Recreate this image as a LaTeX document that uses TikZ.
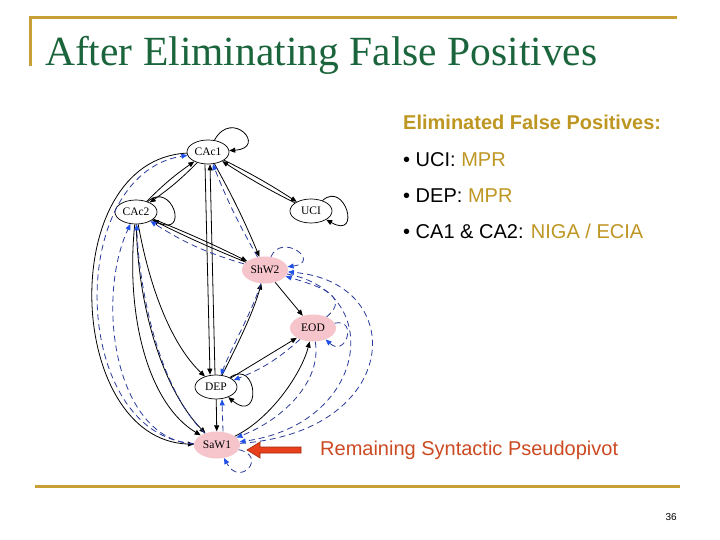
\documentclass[tikz,border=0pt]{standalone}
\usepackage{fontspec}
\setmainfont{Liberation Serif}
\setsansfont{Liberation Sans}
\usetikzlibrary{arrows.meta,shapes.geometric}
\definecolor{goldline}{HTML}{C9A035}
\definecolor{goldtext}{HTML}{BE9622}
\definecolor{titlegreen}{HTML}{1B653C}
\definecolor{remred}{HTML}{CC4A22}
\definecolor{arrowred}{HTML}{E8401C}
\definecolor{arrowdark}{HTML}{A02A10}
\definecolor{pinkfill}{HTML}{F6C4CB}
\definecolor{dashblue}{HTML}{2A3A9A}
\definecolor{arrowblue}{HTML}{2050E8}
\begin{document}
\begin{tikzpicture}[x=1pt,y=-1pt,
  gnode/.style={ellipse,draw,line width=0.7pt,minimum width=42pt,minimum height=24pt,inner sep=0pt,font=\fontsize{11.5}{11.5}\selectfont},
  pnode/.style={ellipse,fill=pinkfill,minimum width=46pt,minimum height=27pt,inner sep=0pt,font=\fontsize{11.5}{11.5}\selectfont},
  blk/.style={draw=black,line width=0.8pt,-{Triangle[length=6pt,width=5pt]}},
  dsh/.style={draw=dashblue,line width=0.8pt,dash pattern=on 6pt off 4pt,-{Triangle[length=6pt,width=5pt,color=arrowblue]}},
  gline/.style={draw=goldline,line width=3pt},
  sanstext/.style={anchor=base west,inner sep=0pt,font=\sffamily\fontsize{20}{20}\selectfont}
]
\useasboundingbox (0,0) rectangle (720,540);
\fill[white] (0,0) rectangle (720,540);

% frame lines
\draw[gline] (30,66) -- (30,18) -- (677,18);
\draw[gline] (35,486) -- (680,486);

% title
\node[anchor=base west,inner sep=0pt,text=titlegreen,font=\fontsize{41.5}{41.5}\selectfont] (title) at (45,66) {After Eliminating False Positives};

% graph nodes
\node[gnode] (c1) at (208,152) {CAc1};
\node[gnode] (c2) at (136,212) {CAc2};
\node[gnode] (uci) at (311,211) {UCI};
\node[pnode] (shw2) at (265,270) {ShW2};
\node[pnode] (eod) at (313,328) {EOD};
\node[gnode] (dep) at (216,387) {DEP};
\node[pnode] (saw1) at (217,445) {SaW1};

% black edges
\draw[blk] (c1) .. controls (232,108) and (268,148) .. (c1);
\draw[blk] (c1) to[bend left=5] (c2);
\draw[blk] (c2) to[bend left=5] (c1);
\draw[blk] (c1) to[bend left=3] (uci);
\draw[blk] (uci) to[bend left=3] (c1);
\draw[blk] (uci) .. controls (345,180) and (362,240) .. (uci);
\draw[blk] (c2) .. controls (172,180) and (190,238) .. (c2);
\draw[blk] (c1) to[bend left=3] (shw2);
\draw[blk] ([xshift=-3pt]c1.south) -- ([xshift=-6pt]dep.north);
\draw[blk] ([xshift=-1pt]dep.north) -- ([xshift=2pt]c1.south);
\draw[blk] (c1) .. controls (55,160) and (65,440) .. (saw1);
\draw[blk] (c2) to[bend left=2] (shw2);
\draw[blk] (shw2) to[bend left=2] (c2);
\draw[blk] (c2) .. controls (150,290) and (172,345) .. (dep);
\draw[blk] (c2) .. controls (125,320) and (150,405) .. (saw1);
\draw[blk] (c2) .. controls (138,312) and (165,392) .. (saw1);
\draw[blk] (dep) .. controls (258,358) and (262,425) .. (dep);
\draw[blk] (dep) -- (saw1);
\draw[blk] (dep) .. controls (240,340) and (254,310) .. (shw2);
\draw[blk] (dep) -- (eod);
\draw[blk] (saw1) .. controls (272,418) and (302,372) .. (eod);
\draw[blk] (shw2) -- (eod);

% dashed edges
\draw[dsh] (saw1) .. controls (70,436) and (64,175) .. (c1);
\draw[dsh] (saw1) .. controls (115,440) and (95,300) .. (c2);
\draw[dsh] (shw2) to[bend left=4] (c1);
\draw[dsh] (shw2) to[bend left=8] (c2);
\draw[dsh] (saw1) .. controls (162,392) and (140,300) .. (c2);
\draw[dsh] (shw2) .. controls (252,312) and (234,342) .. (dep);
\draw[dsh] ([xshift=6pt]saw1.north) -- ([xshift=6pt]dep.south);
\draw[dsh] (eod) to[bend left=10] (dep);
\draw[dsh] (shw2) .. controls (282,232) and (322,262) .. (shw2);
\draw[dsh] (eod) .. controls (352,296) and (318,286) .. (shw2);
\draw[dsh] (saw1) .. controls (402,432) and (410,282) .. (shw2);
\draw[dsh] (shw2) .. controls (386,292) and (368,424) .. (saw1);
\draw[dsh] (eod) .. controls (358,318) and (346,358) .. (eod);
\draw[dsh] (eod) .. controls (322,382) and (282,420) .. (saw1);
\draw[dsh] (saw1) .. controls (268,456) and (240,488) .. (saw1);

% red pointer arrow
\draw[fill=arrowred,draw=arrowdark,line width=0.6pt] (301,447) -- (260,447) -- (260,442) -- (247,450) -- (260,458) -- (260,453) -- (301,453) -- cycle;
\node[anchor=base west,inner sep=0pt,text=remred,font=\sffamily\fontsize{20}{20}\selectfont] (rem) at (320,455) {Remaining Syntactic Pseudopivot};

% right text block
\node[sanstext,text=goldtext,font=\sffamily\bfseries\fontsize{20}{20}\selectfont] (head) at (403,130) {Eliminated False Positives:};
\node[sanstext] (b1) at (403,167) {• UCI: \textcolor{goldtext}{MPR}};
\node[sanstext] (b2) at (403,203) {• DEP: \textcolor{goldtext}{MPR}};
\node[sanstext] (b3) at (403,239) {• CA1 \& CA2: \textcolor{goldtext}{NIGA / ECIA}};

% page number
\node[anchor=base east,inner sep=0pt,font=\sffamily\fontsize{10}{10}\selectfont] (pg) at (677,520) {36};
\end{tikzpicture}
\end{document}
